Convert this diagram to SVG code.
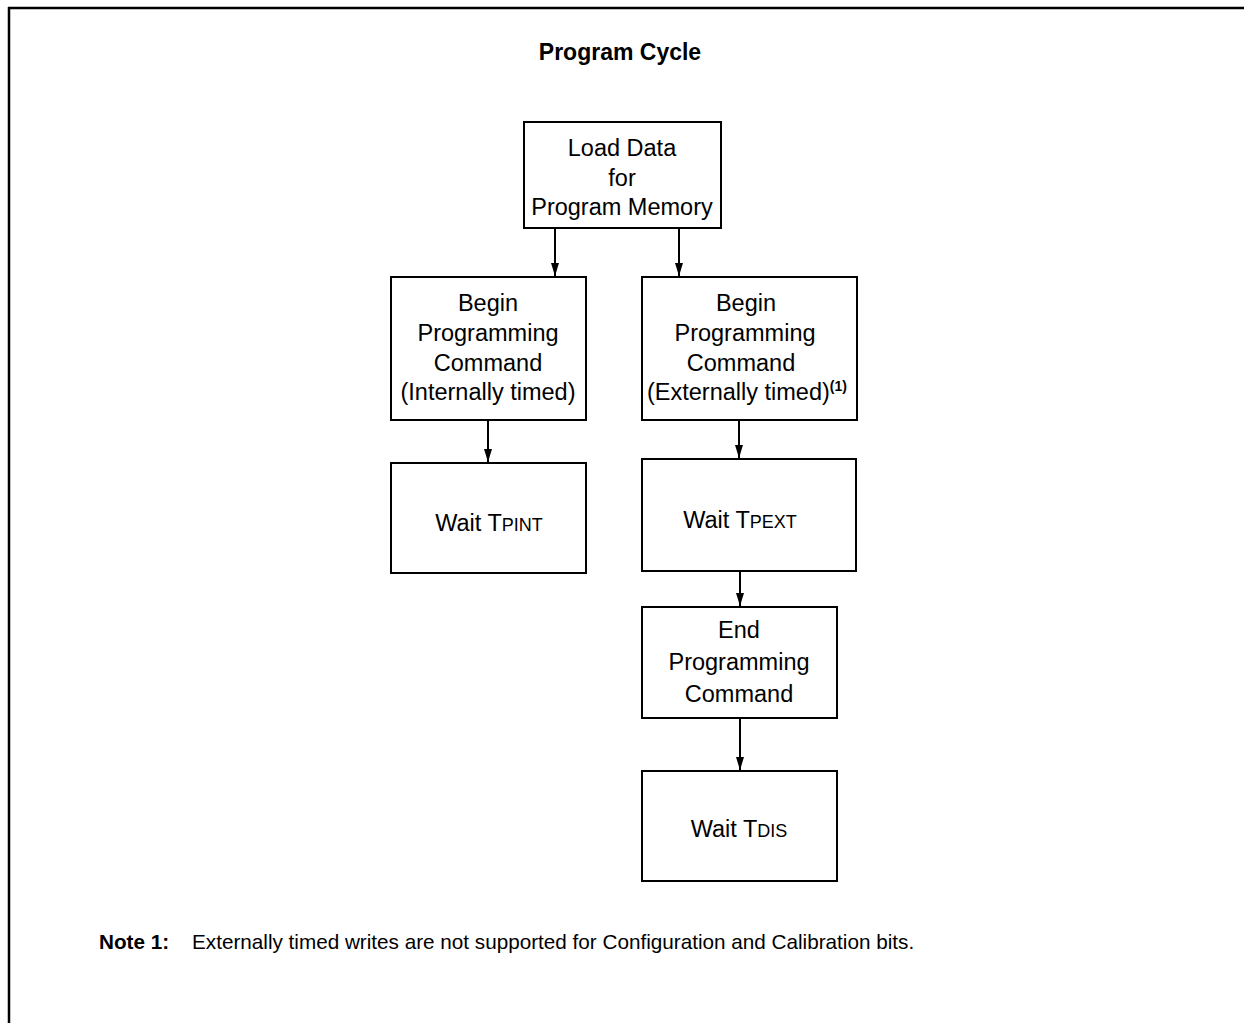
<svg xmlns="http://www.w3.org/2000/svg" width="1244" height="1023" viewBox="0 0 1244 1023">
<style>
text{font-family:"Liberation Sans",Arial,sans-serif;fill:#000}
.t{font-size:23.5px;text-anchor:middle}
.sc{font-size:18px}
.box{fill:#fff;stroke:#000;stroke-width:2}
.conn line{stroke:#000;stroke-width:2}
</style>
<defs>
<marker id="ah" markerUnits="userSpaceOnUse" markerWidth="13" markerHeight="8" refX="13" refY="4" orient="auto" viewBox="0 0 13 8">
<path d="M0,0 L13,4 L0,8 z" fill="#000"/>
</marker>
</defs>
<rect width="1244" height="1023" fill="#fff"/>
<g id="frame">
<line x1="8" y1="8" x2="1244" y2="8" stroke="#000" stroke-width="2.5"/>
<line x1="9" y1="7" x2="9" y2="1023" stroke="#000" stroke-width="2.5"/>
</g>
<text id="title" x="620" y="60" font-size="23" font-weight="bold" text-anchor="middle">Program Cycle</text>
<g id="load">
<rect class="box" x="524" y="122" width="197" height="106"/>
<text class="t" x="622" y="156">Load Data</text>
<text class="t" x="622" y="186">for</text>
<text class="t" x="622" y="215">Program Memory</text>
</g>
<g id="begin-int">
<rect class="box" x="391" y="277" width="195" height="143"/>
<text class="t" x="488" y="311">Begin</text>
<text class="t" x="488" y="341">Programming</text>
<text class="t" x="488" y="371">Command</text>
<text class="t" x="488" y="400">(Internally timed)</text>
</g>
<g id="begin-ext">
<rect class="box" x="642" y="277" width="215" height="143"/>
<text class="t" x="746" y="311">Begin</text>
<text class="t" x="745" y="341">Programming</text>
<text class="t" x="741" y="371">Command</text>
<text x="647" y="400" font-size="23.5">(Externally timed)<tspan font-size="14" font-weight="bold" dy="-9">(1)</tspan></text>
</g>
<g id="wait-pint">
<rect class="box" x="391" y="463" width="195" height="110"/>
<text class="t" x="489" y="531">Wait T<tspan class="sc">PINT</tspan></text>
</g>
<g id="wait-pext">
<rect class="box" x="642" y="459" width="214" height="112"/>
<text class="t" x="740" y="528">Wait T<tspan class="sc">PEXT</tspan></text>
</g>
<g id="end">
<rect class="box" x="642" y="607" width="195" height="111"/>
<text class="t" x="739" y="638">End</text>
<text class="t" x="739" y="670">Programming</text>
<text class="t" x="739" y="702">Command</text>
</g>
<g id="wait-dis">
<rect class="box" x="642" y="771" width="195" height="110"/>
<text class="t" x="739" y="837">Wait T<tspan class="sc">DIS</tspan></text>
</g>
<g id="connectors" class="conn">
<line x1="555" y1="228" x2="555" y2="276" marker-end="url(#ah)"/>
<line x1="679" y1="228" x2="679" y2="276" marker-end="url(#ah)"/>
<line x1="488" y1="420" x2="488" y2="462" marker-end="url(#ah)"/>
<line x1="739" y1="420" x2="739" y2="458" marker-end="url(#ah)"/>
<line x1="740" y1="571" x2="740" y2="606" marker-end="url(#ah)"/>
<line x1="740" y1="718" x2="740" y2="770" marker-end="url(#ah)"/>
</g>
<text id="note" x="99" y="949" font-size="20.7"><tspan font-weight="bold">Note 1:</tspan><tspan x="192">Externally timed writes are not supported for Configuration and Calibration bits.</tspan></text>
</svg>
